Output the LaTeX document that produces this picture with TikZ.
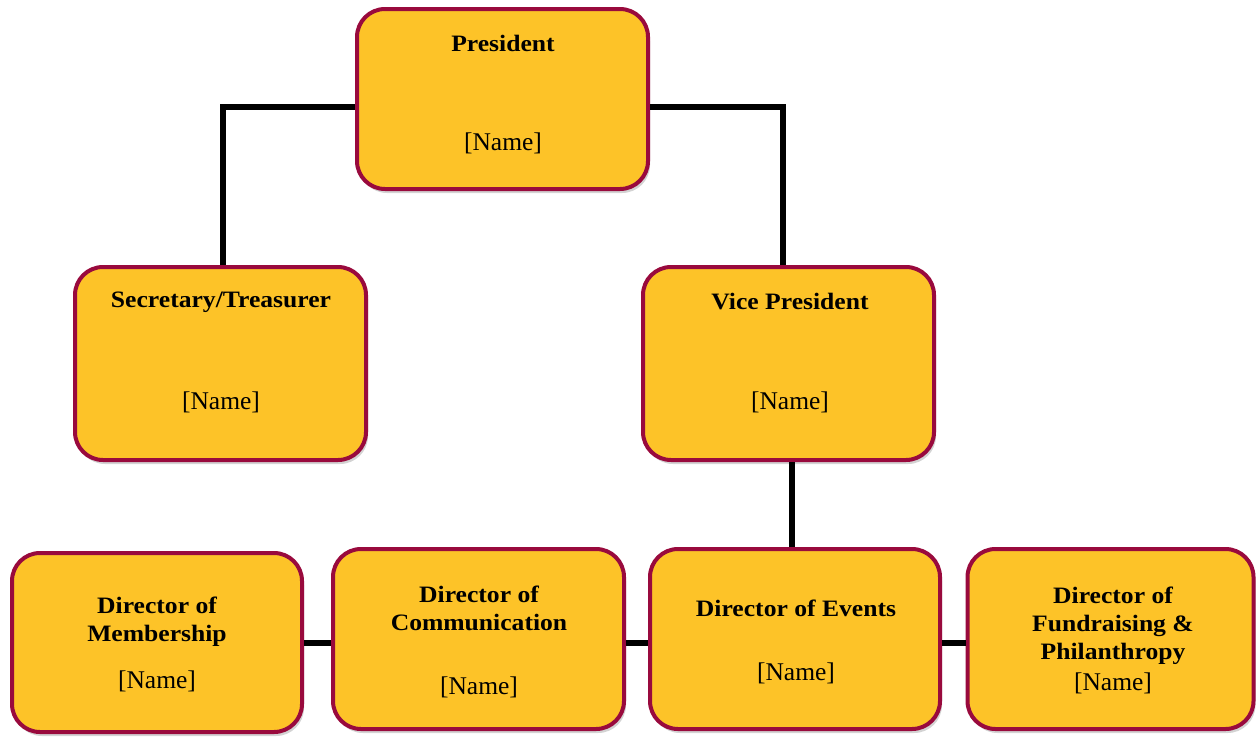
\documentclass[tikz,border=0pt]{standalone}
\usepackage{fontspec}
\setmainfont{Liberation Serif}
\newfontfamily\titlefont[FakeStretch=1.09]{Liberation Serif}
\usetikzlibrary{shadows}
\definecolor{boxfill}{HTML}{FDC328}
\definecolor{boxline}{HTML}{990A3D}
\tikzset{
  orgbox/.style={draw=boxline, line width=4pt, fill=boxfill, rounded corners=28pt,
    inner sep=0pt, drop shadow={opacity=0.35, shadow xshift=2pt, shadow yshift=-4pt}},
  ttl/.style={font=\titlefont\bfseries\fontsize{23.5}{28}\selectfont, align=center, inner sep=0pt},
  nm/.style={font=\fontsize{25.5}{28}\selectfont, inner sep=0pt},
  conn/.style={line width=5.6pt, black}
}
\begin{document}
\begin{tikzpicture}[x=1pt,y=-1pt]
\useasboundingbox (0,0) rectangle (1257,736);
\coordinate (yh) at (0,643);
% boxes
\node[orgbox, minimum width=291pt, minimum height=180pt] (pres) at (502.5,99) {};
\node[orgbox, minimum width=291pt, minimum height=193pt] (sec) at (220.5,363.5) {};
\node[orgbox, minimum width=291pt, minimum height=193pt] (vp) at (788.5,363.5) {};
\node[orgbox, minimum width=290pt, minimum height=179pt] (mem) at (157,642.5) {};
\node[orgbox, minimum width=291pt, minimum height=180pt] (com) at (478.5,639) {};
\node[orgbox, minimum width=290pt, minimum height=180pt] (ev) at (795,639) {};
\node[orgbox, minimum width=286pt, minimum height=180pt] (fund) at (1110.5,639) {};
% connectors
\draw[conn] ([yshift=-8pt]pres.west) -| ([xshift=2.5pt]sec.north);
\draw[conn] ([yshift=-8pt]pres.east) -| ([xshift=-5.5pt]vp.north);
\draw[conn] ([xshift=3.5pt]vp.south) -- ([xshift=3.5pt]vp.south |- ev.north);
\draw[conn] (mem.east |- yh) -- (com.west |- yh);
\draw[conn] (com.east |- yh) -- (ev.west |- yh);
\draw[conn] (ev.east |- yh) -- (fund.west |- yh);
% texts
\node[ttl] (presT) at (503,43) {President};
\node[nm] (presN) at (503,143) {[Name]};
\node[ttl] (secT) at (221,302) {Secretary/Treasurer};
\node[nm] (secN) at (221,402) {[Name]};
\node[ttl] (vpT) at (790,302) {Vice President};
\node[nm] (vpN) at (790,402) {[Name]};
\node[ttl] (memT) at (157,622) {Director of\\Membership};
\node[nm] (memN) at (157,681) {[Name]};
\node[ttl] (comT) at (479,608) {Director of\\Communication};
\node[nm] (comN) at (479,687) {[Name]};
\node[ttl] (evT) at (796,608) {Director of Events};
\node[nm] (evN) at (796,673) {[Name]};
\node[ttl] (fundT) at (1113,626) {Director of\\Fundraising \&\\Philanthropy};
\node[nm] (fundN) at (1113,683) {[Name]};
\end{tikzpicture}
\end{document}
